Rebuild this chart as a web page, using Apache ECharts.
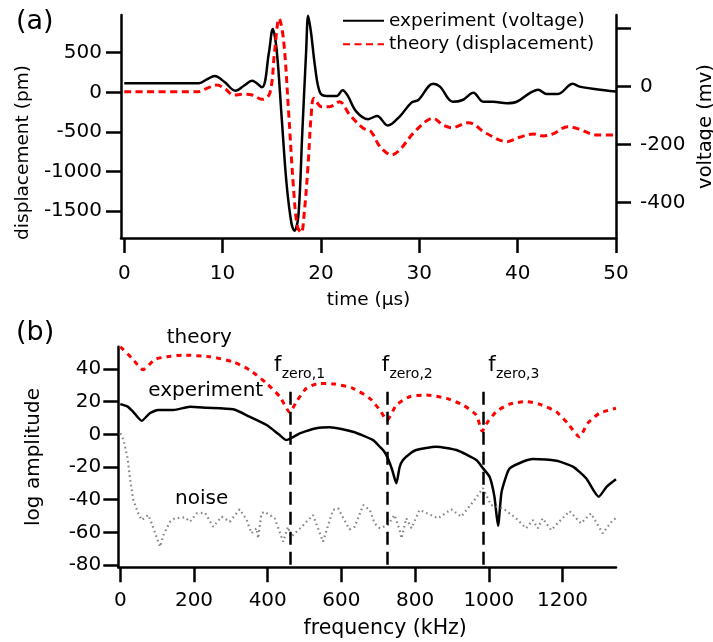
<!DOCTYPE html>
<html><head><meta charset="utf-8">
<script src="https://cdn.jsdelivr.net/npm/echarts@6/dist/echarts.min.js"></script>
<style>html,body{margin:0;padding:0;background:#fff}#c{width:713px;height:642px}</style>
</head><body><div id="c"></div>
<script>
// ---- panel (a) data ----
const timeExp = [0,7.6,8.4,9.2,10.2,11.3,12.2,13.0,14.0,14.7,15.1,15.5,16.0,16.5,17.0,17.3,17.7,18.1,18.5,18.7,19.0,19.4,19.9,20.6,21.6,22.2,22.7,23.6,24.8,25.7,26.8,28.0,29.2,29.9,31.4,32.1,33.4,34.4,35.5,36.5,37.5,38.9,39.9,41.2,42.1,42.9,44.1,45.6,46.3,48.0,50];
const voltExp = [11.7,11.7,25,37,16,-14,4,20,-2,115,199,126,-103,-333,-471,-497,-448,-161,126,244,184,69,-20,-32,-32,-12,-30,-86,-112,-101,-134,-103,-55,-46,10,0,-52,-46,-21,-52,-52,-57,-52,-23,-11,-25,-25,10,0,-9,-17];
const timeTheory = [0,7.5,8.4,9.4,10.3,11.1,12.1,13.0,14.0,14.8,15.3,15.75,16.2,16.7,17.2,17.6,18.0,18.3,18.7,19.0,19.3,20.05,20.9,21.9,22.9,24.3,25.1,26.0,27.2,28.0,29.7,31.4,32.4,33.3,35.0,36.8,38.9,40.2,41.6,42.6,43.6,45.1,46.3,48.0,50];
const dispTheory = [8,8,50,92,40,-34,-25,-34,-88,-13,532,932,658,-223,-1188,-1692,-1770,-1523,-900,-300,-76,-181,-181,-118,-280,-453,-496,-685,-789,-726,-475,-327,-412,-446,-383,-516,-622,-567,-525,-550,-525,-433,-466,-538,-538];
const timeTicks = [0,10,20,30,40,50];
const dispTicks = [-1500,-1000,-500,0,500];
const voltTicks = [-400,-200,0,200];
const voltLabels = [-400,-200,0];
const legendNames = ['experiment (voltage)','theory (displacement)'];

// ---- panel (b) data ----
const freqTheory = [0,30,62,94,126,171,243,306,351,397,433,460,478,505,541,582,631,677,704,724,749,785,830,885,930,966,982,997,1020,1056,1101,1137,1183,1214,1246,1268,1300,1345];
const ampTheory = [53.6,47,39.6,45.9,47.5,48.5,47.5,44.4,39.4,31.2,23,13.5,20,28.2,31.2,30.8,28.2,22,14.9,8.8,17.9,23,24.1,22,17.9,11.8,2,7.7,13.8,18.5,20,18.5,13.8,6.7,-1.5,6.7,12.9,16];
const freqExp = [0,20,35,58,80,103,144,189,234,306,351,397,430,451,470,487,532,568,631,686,704,716,726,738,749,758,767,785,803,857,912,966,985,1002,1015,1025,1034,1045,1056,1092,1119,1183,1228,1264,1298,1320,1345];
const ampExp = [18.5,17,13.8,8.3,12.9,14.9,14.9,16.9,16.3,15.3,10.8,5.7,0,-3.5,-1.5,0.6,3.7,4.3,1.6,-3.5,-7.6,-10.5,-14.7,-22,-30,-20,-15.7,-12,-9.6,-7.6,-9.6,-15.7,-21,-26,-38,-56,-36,-27,-21,-16.8,-15.1,-16.2,-19.8,-26.9,-38.2,-32,-27.5];
const freqNoise = [0,8,13,20,27,35,49,58,76,85,108,117,135,148,175,189,207,230,252,275,297,324,343,356,370,374,383,392,419,442,455,464,492,523,550,577,591,622,636,659,677,690,704,726,744,758,763,776,790,812,862,898,925,961,984,1006,1038,1074,1101,1119,1133,1146,1169,1219,1250,1277,1309,1336,1345];
const ampNoise = [0.6,-3,-7.6,-15,-28,-40,-48.4,-52.5,-49.4,-54.5,-68.8,-61.6,-53.5,-51.4,-50.8,-53.5,-48.4,-48,-56.6,-50.4,-53.5,-45.9,-52.5,-60.6,-57.5,-63.7,-48.4,-47.4,-51.4,-65.7,-56.6,-62.7,-56.6,-49.4,-65.7,-46.3,-45.3,-58.2,-56.6,-43.3,-46.3,-54.5,-57.5,-55.5,-49.4,-58.6,-63.7,-51.4,-57.5,-46.3,-51.4,-45.9,-50.4,-40.2,-33,-43.3,-45.3,-51.4,-57.5,-52.5,-57.5,-51.4,-58.6,-47,-54.5,-48.4,-60.6,-52.5,-51.4];
const fZero = [460,724,984];
const fZeroNames = ['zero,1','zero,2','zero,3'];
const fZeroTop = 26;
const freqTicks = [0,200,400,600,800,1000,1200];
const ampTicks = [-80,-60,-40,-20,0,20,40];

const FONT = 'DejaVu Sans';
const pairs = (xs, ys) => xs.map((x, i) => [x, ys[i]]);
const plain = v => String(v);

const axisLineStyle = {show:true, onZero:false, lineStyle:{color:'#000', width:2.5}};
const tickStyle = (vals) => ({show:true, inside:false, length:15, lineStyle:{color:'#000', width:2.5}, customValues: vals});
const labelStyle = (vals, margin, extra) => Object.assign({show:true, color:'#000', fontFamily:FONT, fontSize:20, margin:margin, customValues: vals, formatter: plain}, extra||{});
const nameStyle = (extra) => Object.assign({color:'#000', fontFamily:FONT, fontSize:19.5}, extra||{});

const yMinB = -81.4;

const chart = echarts.init(document.getElementById('c'), null, {renderer:'canvas'});
const option = {
  animation:false,
  backgroundColor:'#fff',
  grid:[
    {left:121, right:97, top:15, bottom:404, containLabel:false, outerBoundsMode:'none'},
    {left:118.3, right:97, top:346.7, bottom:74.7, containLabel:false, outerBoundsMode:'none'}
  ],
  legend:{
    data: legendNames,
    orient:'vertical', left:337, top:4.7,
    itemWidth:41, itemHeight:14, itemGap:1.6,
    itemStyle:{opacity:0},
    textStyle:{color:'#000', fontFamily:FONT, fontSize:18.5, lineHeight:22},
    selectedMode:false
  },
  xAxis:[
    {type:'value', gridIndex:0, min:-0.33, max:50,
     name:'time (μs)', nameLocation:'middle', nameGap:53, nameTextStyle:nameStyle({fontSize:18.5}),
     axisLine:axisLineStyle, axisTick:tickStyle(timeTicks), axisLabel:labelStyle(timeTicks, 26), splitLine:{show:false}},
    {type:'value', gridIndex:1, min:-5.4, max:1345,
     name:'frequency (kHz)', nameLocation:'middle', nameGap:51, nameTextStyle:nameStyle({fontSize:20.5, padding:[0,0,0,36]}),
     axisLine:axisLineStyle, axisTick:tickStyle(freqTicks), axisLabel:labelStyle(freqTicks, 23), splitLine:{show:false}}
  ],
  yAxis:[
    {type:'value', gridIndex:0, position:'left', min:-1837, max:975,
     name:'displacement (pm)', nameLocation:'middle', nameGap:86, nameTextStyle:nameStyle({fontSize:18.5, padding:[0,52,0,0]}),
     axisLine:axisLineStyle, axisTick:tickStyle(dispTicks), axisLabel:labelStyle(dispTicks, 19), splitLine:{show:false}},
    {type:'value', gridIndex:0, position:'right', min:-521.7, max:247,
     name:'voltage (mv)', nameLocation:'middle', nameGap:80, nameTextStyle:nameStyle(),
     axisLine:axisLineStyle, axisTick:tickStyle(voltTicks), axisLabel:labelStyle(voltLabels, 24), splitLine:{show:false}},
    {type:'value', gridIndex:1, position:'left', min:yMinB, max:53.65,
     name:'log amplitude', nameLocation:'middle', nameGap:75, nameTextStyle:nameStyle({fontSize:20}),
     axisLine:axisLineStyle, axisTick:tickStyle(ampTicks), axisLabel:labelStyle(ampTicks, 17), splitLine:{show:false}}
  ],
  series:[
    {name:legendNames[0], type:'line', xAxisIndex:0, yAxisIndex:1, data:pairs(timeExp, voltExp),
     symbol:'none', smooth:0.35, lineStyle:{color:'#000', width:2.5}, itemStyle:{color:'#000'}, z:3},
    {name:legendNames[1], type:'line', xAxisIndex:0, yAxisIndex:0, data:pairs(timeTheory, dispTheory),
     symbol:'none', smooth:0.35, lineStyle:{color:'#ff0000', width:3, type:[7,4.5]}, itemStyle:{color:'#ff0000'}, z:4},
    {name:'theory', type:'line', xAxisIndex:1, yAxisIndex:2, data:pairs(freqTheory, ampTheory),
     symbol:'none', smooth:0.2, lineStyle:{color:'#ff0000', width:3, type:[5,5]}, itemStyle:{color:'#ff0000'}},
    {name:'experiment', type:'line', xAxisIndex:1, yAxisIndex:2, data:pairs(freqExp, ampExp),
     symbol:'none', smooth:0.2, lineStyle:{color:'#000', width:2.5}, itemStyle:{color:'#000'},
     markLine:{silent:true, symbol:['none','none'], label:{show:false},
       lineStyle:{color:'#000', width:2.5, type:[13,7]},
       data: fZero.map(f => [{coord:[f, fZeroTop]}, {coord:[f, yMinB]}])}},
    {name:'noise', type:'line', xAxisIndex:1, yAxisIndex:2, data:pairs(freqNoise, ampNoise),
     symbol:'none', lineStyle:{color:'#888', width:2.2, type:[1.6,3.2]}, itemStyle:{color:'#888'}}
  ],
  graphic:[
    {type:'text', left:16, top:8, style:{text:'(a)', font:'27px "DejaVu Sans"', fill:'#000'}},
    {type:'text', left:16, top:319, style:{text:'(b)', font:'27px "DejaVu Sans"', fill:'#000'}},
    {type:'text', x:166.7, y:338, style:{text:'theory', font:'20px "DejaVu Sans"', fill:'#000', verticalAlign:'middle'}},
    {type:'text', x:148.3, y:391, style:{text:'experiment', font:'20px "DejaVu Sans"', fill:'#000', verticalAlign:'middle'}},
    {type:'text', x:175, y:499, style:{text:'noise', font:'20px "DejaVu Sans"', fill:'#000', verticalAlign:'middle'}}
  ]
};
// f_zero labels (text annotations next to the zero lines)
const fLabelX = [274, 381.7, 488.3];
fLabelX.forEach((x, i) => {
  option.graphic.push({type:'text', x:x, y:365.5, style:{text:'f', font:'21px "DejaVu Sans"', fill:'#000', verticalAlign:'middle'}});
  option.graphic.push({type:'text', x:x+7.7, y:374, style:{text:fZeroNames[i], font:'14px "DejaVu Sans"', fill:'#000', verticalAlign:'middle'}});
});
chart.setOption(option);
</script></body></html>
